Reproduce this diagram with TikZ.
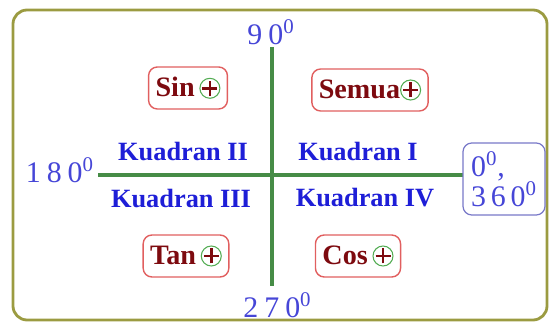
\documentclass[tikz,border=0pt]{standalone}
\usepackage{fontspec}
\usepackage{xcolor}
\setmainfont{Liberation Serif}
\newfontfamily\sudutfont[LetterSpace=20]{Liberation Serif}
\newfontfamily\kotakfont[LetterSpace=16]{Liberation Serif}
\definecolor{bingkaiolive}{RGB}{155,155,65}
\definecolor{sumbuhijau}{RGB}{70,140,70}
\definecolor{kuadranbiru}{RGB}{30,30,215}
\definecolor{sudutbiru}{RGB}{70,70,215}
\definecolor{kotakbiru}{RGB}{120,120,200}
\definecolor{tandamerah}{RGB}{225,95,95}
\definecolor{tandateks}{RGB}{125,10,15}
\newcommand{\plusbulat}{\tikz[baseline=-0.65ex]{\draw[draw=green!35!gray,line width=0.6pt] (0,0) circle (0.2);\draw[tandateks,line width=1.4pt] (-0.15,0) -- (0.15,0) (0,-0.15) -- (0,0.15);}}
\begin{document}
\begin{tikzpicture}[
  bingkai/.style={draw=bingkaiolive,line width=1.6pt,rounded corners=8pt},
  sumbu/.style={draw=sumbuhijau,line width=1.8pt},
  kuadran/.style={text=kuadranbiru,font=\bfseries\fontsize{15}{17}\selectfont},
  tandabox/.style={draw=tandamerah,line width=0.8pt,rounded corners=5pt,text=tandateks,font=\bfseries\fontsize{16}{18}\selectfont,inner xsep=4pt,minimum height=0.84cm},
  sudut/.style={text=sudutbiru,font=\sudutfont\fontsize{17}{19}\selectfont,anchor=base},
  kotaksudut/.style={draw=kotakbiru,line width=0.7pt,rounded corners=5pt,text=sudutbiru,font=\kotakfont\fontsize{17}{17}\selectfont,align=left,inner sep=1pt,minimum width=1.64cm,minimum height=1.44cm}
]
\useasboundingbox (0,0) rectangle (11,6.5);
\draw[bingkai] (0.26,6.3) rectangle (10.94,0.1);

% sumbu
\coordinate (atas) at (5.44,5.56);
\coordinate (bawah) at (5.44,0.78);
\coordinate (kiri) at (1.96,3.0);
\coordinate (kanan) at (9.26,3.0);
\draw[sumbu] (atas) -- (bawah);
\draw[sumbu] (kiri) -- (kanan);

% sudut
\node[sudut] (s90) at (5.42,5.6) {90\textsuperscript{0}};
\node[sudut] (s180) at (1.2,2.84) {180\textsuperscript{0}};
\node[sudut] (s270) at (5.55,0.14) {270\textsuperscript{0}};
\node[kotaksudut] (s360) at (10.08,2.92) {0\textsuperscript{0},\\360\textsuperscript{0}};

% kuadran
\node[kuadran] (k1) at (7.16,3.46) {Kuadran I};
\node[kuadran] (k2) at (3.66,3.46) {Kuadran II};
\node[kuadran] (k3) at (3.62,2.52) {Kuadran III};
\node[kuadran] (k4) at (7.3,2.54) {Kuadran IV};

% tanda positif
\node[tandabox] (semua) at (7.4,4.7) {Semua\plusbulat};
\node[tandabox] (sin) at (3.76,4.74) {Sin\,\plusbulat};
\node[tandabox] (tan) at (3.72,1.38) {Tan\,\plusbulat};
\node[tandabox] (cos) at (7.16,1.38) {Cos\,\plusbulat};
\end{tikzpicture}
\end{document}
